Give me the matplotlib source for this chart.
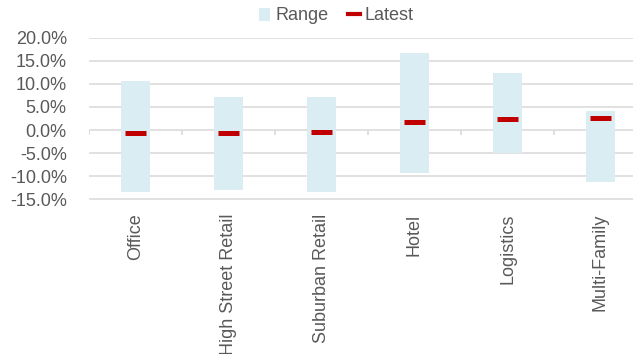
import numpy as np
import matplotlib.pyplot as plt
from matplotlib.patches import Patch
from matplotlib.lines import Line2D
from matplotlib.ticker import FuncFormatter

plt.rcParams['font.family'] = ['Liberation Sans', 'DejaVu Sans']

# data (% values)
sectors = ['Office', 'High Street Retail', 'Suburban Retail', 'Hotel', 'Logistics', 'Multi-Family']
range_high = [10.5, 7.1, 7.1, 16.6, 12.4, 4.1]
range_low = [-13.4, -12.9, -13.4, -9.2, -5.0, -11.2]
latest = [-0.7, -0.7, -0.5, 1.65, 2.3, 2.5]

grey = '#595959'
grid_col = '#D9D9D9'

fig = plt.figure(figsize=(6.33, 3.54), dpi=100)
# the plot area runs past the right edge of the picture, as in the original
ax = fig.add_axes([89/633, 154.5/354, 558/633, 162/354])

x = np.arange(len(sectors))
heights = np.array(range_high) - np.array(range_low)
ax.bar(x, heights, bottom=range_low, width=0.31, color='#DAEDF3', zorder=2)
ax.hlines(latest, x - 0.117, x + 0.117, color='#C00000', linewidth=3.6, zorder=3)

# small tick marks hanging off the zero line at category boundaries
ax.vlines(np.arange(len(sectors) + 1) - 0.5, -1.1, 0, color=grid_col, linewidth=1.2, zorder=1)

ax.set_xlim(-0.5, len(sectors) - 0.5)
ax.set_ylim(-15, 20)
ax.set_yticks(np.arange(-15, 20.1, 5))
ax.yaxis.set_major_formatter(FuncFormatter(lambda v, p: '{:.1f}%'.format(v)))
ax.grid(axis='y', color=grid_col, linewidth=1.1, zorder=0)
ax.set_axisbelow(True)
for s in ax.spines.values():
    s.set_visible(False)
ax.tick_params(axis='both', length=0, colors=grey, labelsize=13)
ax.tick_params(axis='y', pad=16)
ax.set_xticks(x)
ax.set_xticklabels(sectors, rotation=90, va='top')
ax.tick_params(axis='x', pad=10)

handles = [Patch(facecolor='#DAEDF3', label='Range'),
           Line2D([0], [0], color='#C00000', linewidth=3, label='Latest')]
fig.legend(handles=handles, loc='center', bbox_to_anchor=(336/633, 1 - 16/354), ncol=2,
           frameon=False, fontsize=13, labelcolor=grey, handlelength=0.65, handleheight=0.7,
           handletextpad=0.25, columnspacing=1.1)

fig.savefig('out.png', dpi=100)
